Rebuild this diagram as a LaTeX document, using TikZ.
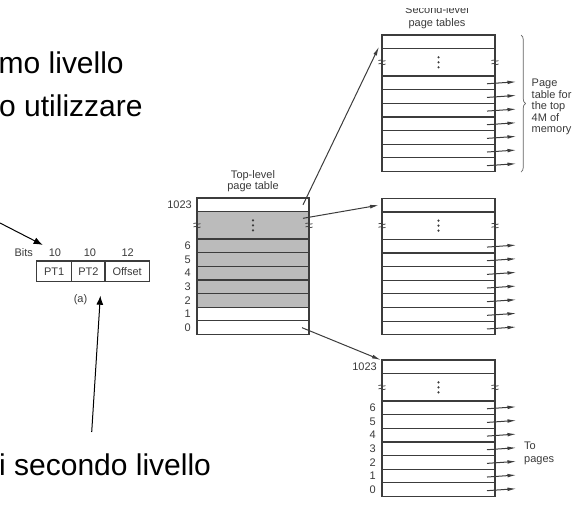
\documentclass[tikz,border=0pt]{standalone}
\usepackage{fontspec}
\setmainfont{Liberation Sans}
\usetikzlibrary{arrows.meta,decorations.pathreplacing}
\definecolor{linec}{HTML}{3C3C3C}
\definecolor{greyf}{HTML}{BBBBBB}
\definecolor{txt}{HTML}{3A3A3A}
\newcommand\pgtab[5]{%
  \node[tabrow,minimum width=#4] (#1t) at (#2,#3) {};
  \node[#5,minimum width=#4,minimum height=27.3pt] (#1g) at (#1t.south west) {};
  \node[#5,minimum width=#4] (#16) at (#1g.south west) {};
  \node[#5,minimum width=#4] (#15) at (#16.south west) {};
  \node[#5,minimum width=#4] (#14) at (#15.south west) {};
  \node[#5,minimum width=#4] (#13) at (#14.south west) {};
  \node[#5,minimum width=#4] (#12) at (#13.south west) {};
  \node[tabrow,minimum width=#4] (#11) at (#12.south west) {};
  \node[tabrow,minimum width=#4] (#10) at (#11.south west) {};
  \fill[linec] ([yshift=5pt]#1g.center) circle (1.2pt) (#1g.center) circle (1.2pt) ([yshift=-5pt]#1g.center) circle (1.2pt);
  \pic at (#1g.west) {brkmark};
  \pic at (#1g.east) {brkmark};
}
\begin{document}
\begin{tikzpicture}[x=1pt,y=-1pt,
  tabrow/.style={draw=linec,line width=1.2pt,minimum height=13.65pt,inner sep=0pt,outer sep=0pt,anchor=north west},
  shadedrow/.style={tabrow,fill=greyf},
  fld/.style={draw=linec,line width=1.1pt,minimum height=20.7pt,inner sep=0pt,font=\fontsize{11}{13}\selectfont,text=txt},
  lbl/.style={font=\fontsize{11}{13}\selectfont,text=txt,inner sep=0pt},
  big/.style={font=\fontsize{30}{36}\selectfont,inner sep=0pt,anchor=base west},
  outarr/.style={line width=1pt,draw=linec,-{Latex[length=9pt,width=3.6pt]}},
  linkarr/.style={line width=1pt,draw=linec,-{Latex[length=9pt,width=3.8pt]}},
  notearr/.style={line width=1pt,-{Latex[length=9pt,width=7pt]}},
  brkline/.style={line width=0.7pt,draw=linec},
  brkmark/.pic={
    \draw[brkline] (-3.5,-1.7) .. controls (-1.5,-3.6) and (1.5,0.2) .. (3.5,-1.7);
    \draw[brkline] (-3.5,1.7) .. controls (-1.5,-0.2) and (1.5,3.6) .. (3.5,1.7);
  },
]
\useasboundingbox (0,0) rectangle (573,531);
\clip (0,0) rectangle (573,531);

% large slide text
\node[big] (ta) at (-1.5,73) {mo livello};
\node[big] (tb) at (-1,116.5) {o utilizzare};
\node[big] (tc) at (-1,475) {i secondo livello};

% part (a)
\node[fld,minimum width=35pt] (pt1) at (54.2,271.3) {PT1};
\node[fld,minimum width=33.3pt] (pt2) at (88.35,271.3) {PT2};
\node[fld,minimum width=44.3pt] (off) at (127.15,271.3) {Offset};
\node[lbl] (bits) at (23.8,253) {Bits};
\node[lbl] (b1) at (55,253) {10};
\node[lbl] (b2) at (90,253) {10};
\node[lbl] (b3) at (127.7,253) {12};
\node[lbl] (pa) at (80.5,299.5) {(a)};

\coordinate (n1s) at (0,223);
\draw[notearr] (n1s) -- ([xshift=-6pt,yshift=4pt]b1.north west);
\coordinate (n2s) at (91.7,432);
\draw[notearr] (n2s) -- ([xshift=12pt,yshift=-13.5pt]pt2.south);

% top-level page table
\pgtab{L}{197}{198}{112pt}{shadedrow}
\node[lbl,anchor=east] (Ln) at ([xshift=-5pt]Lt.west) {1023};
\foreach \r in {6,...,0} \node[lbl,anchor=east] (Ll\r) at ([xshift=-6pt]L\r.west) {\r};
\node[lbl,align=center,anchor=north,font=\fontsize{11}{11}\selectfont] (Ltitle) at (253,170.5) {Top-level\\page table};

% second-level page tables
\pgtab{A}{382}{35}{113pt}{tabrow}
\pgtab{B}{382}{198.3}{113pt}{tabrow}
\pgtab{C}{382}{360}{113pt}{tabrow}
\foreach \p in {A,B,C}{\foreach \r in {6,...,0}{\draw[outarr] ([xshift=-8pt,yshift=-1pt]\p\r.east) -- ++(29.5,-2);}}
\node[lbl,anchor=east] (Cn) at ([xshift=-5pt]Ct.west) {1023};
\foreach \r in {6,...,0} \node[lbl,anchor=east] (Cl\r) at ([xshift=-6pt]C\r.west) {\r};

\begin{scope}
  \clip (300,8.5) rectangle (573,40);
  \node[lbl,align=center,anchor=north,font=\fontsize{11}{12.5}\selectfont] (Stitle) at (437,5.5) {Second-level\\page tables};
\end{scope}

\draw[decorate,decoration={brace,amplitude=4.5pt},line width=0.7pt,draw=linec!80] (521,35) -- (521,172);
\node[lbl,align=left,anchor=north west,font=\fontsize{11}{11.5}\selectfont] (memo) at (531.5,79) {Page\\table for\\the top\\4M of\\memory};
\node[lbl,align=left,anchor=north west,font=\fontsize{11}{12.3}\selectfont] (topg) at (524,442) {To\\pages};

% links from top-level table
\draw[linkarr] ([xshift=-6pt]Lt.east) -- ([xshift=-3pt,yshift=2pt]At.south west);
\draw[linkarr] ([xshift=-6pt,yshift=7pt]Lg.east) -- ([xshift=-3pt]Bt.west);
\draw[linkarr] ([xshift=-7pt]L0.east) -- ([xshift=-1pt]Ct.north west);
\end{tikzpicture}
\end{document}
